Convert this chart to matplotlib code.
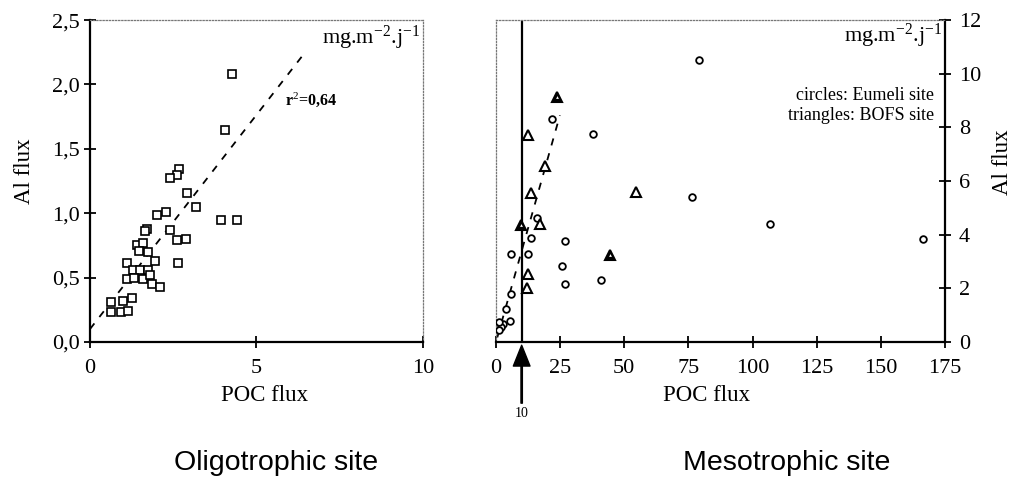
import numpy as np
import matplotlib
matplotlib.use("Agg")
import matplotlib.pyplot as plt
import matplotlib.transforms as mtransforms

plt.rcParams["font.family"] = ["Liberation Serif", "DejaVu Serif"]
plt.rcParams["mathtext.fontset"] = "custom"
plt.rcParams["mathtext.rm"] = "Liberation Serif"
plt.rcParams["mathtext.it"] = "Liberation Serif:italic"
plt.rcParams["mathtext.bf"] = "Liberation Serif:bold"

# ── Data: oligotrophic site (squares) ─────────────────────────────────────────
oligo_poc = [4.26, 4.04, 3.92, 4.40, 3.18, 2.90, 2.66, 2.62, 2.40, 2.27, 2.02,
             2.40, 2.60, 2.89, 2.65, 1.70, 1.64, 1.40, 1.58, 1.48, 1.75, 1.95,
             1.10, 1.28, 1.50, 1.75, 1.10, 1.33, 1.60, 1.85, 2.10, 1.80, 1.25,
             0.98, 0.63, 0.63, 0.92, 1.13]
oligo_al = [2.08, 1.65, 0.95, 0.95, 1.05, 1.16, 1.34, 1.30, 1.27, 1.01, 0.99,
            0.87, 0.79, 0.80, 0.61, 0.88, 0.86, 0.75, 0.77, 0.71, 0.70, 0.63,
            0.61, 0.56, 0.56, 0.56, 0.49, 0.50, 0.49, 0.45, 0.43, 0.52, 0.34,
            0.32, 0.31, 0.23, 0.23, 0.24]
oligo_fit_x = [0.0, 6.4]
oligo_fit_y = [0.10, 2.23]

# ── Data: mesotrophic site ────────────────────────────────────────────────────
eumeli_poc = [79.2, 37.8, 22.0, 76.5, 106.8, 166.3, 26.8, 25.7, 26.8, 41.0,
              13.8, 16.0, 12.3, 6.0, 6.0, 3.8, 5.4, 2.6, 1.9, 1.0, 1.2]
eumeli_al = [10.5, 7.76, 8.3, 5.4, 4.4, 3.83, 3.77, 2.82, 2.18, 2.31,
             3.88, 4.63, 3.29, 3.29, 1.78, 1.22, 0.78, 0.68, 0.55, 0.45, 0.75]
bofs_poc = [12.5, 19.2, 13.6, 54.7, 17.2, 12.5, 12.1]
bofs_al = [7.70, 6.58, 5.56, 5.58, 4.40, 2.53, 2.00]
bofs_dup_poc = [23.8, 9.9, 44.3]     # overlapping points (drawn heavy)
bofs_dup_al = [9.13, 4.37, 3.25]
meso_fit_x = [0.5, 24.9]
meso_fit_y = [0.17, 8.45]
poc_threshold = 10

fig = plt.figure(figsize=(10.28, 4.79), dpi=100)
ax1 = fig.add_axes([0.0875, 0.286, 0.324, 0.672])
ax2 = fig.add_axes([0.4825, 0.286, 0.4368, 0.672])


def frame(ax, solid, dotted):
    for s in solid:
        ax.spines[s].set_linewidth(1.6)
        ax.spines[s].set_color("black")
    for s in dotted:
        ax.spines[s].set_linestyle((0, (1, 1.5)))
        ax.spines[s].set_linewidth(0.9)
        ax.spines[s].set_color("#777777")


# ── Left panel ────────────────────────────────────────────────────────────────
ax1.plot(oligo_poc, oligo_al, "s", mfc="white", mec="black", ms=5.6, mew=1.2,
         zorder=3)
ax1.plot(oligo_fit_x, oligo_fit_y, color="black", lw=1.3,
         linestyle=(0, (4, 4.5)), zorder=2)
ax1.set_xlim(0, 10)
ax1.set_ylim(0, 2.5)
ax1.set_xticks([0, 5, 10])
ax1.set_xticklabels(["0", "5", "10"])
ax1.set_yticks([0, 0.5, 1.0, 1.5, 2.0, 2.5])
ax1.set_yticklabels(["0,0", "0,5", "1,0", "1,5", "2,0", "2,5"])
ax1.tick_params(axis="x", direction="inout", length=8, width=1.3, pad=8,
                labelsize=16)
ax1.tick_params(axis="y", direction="inout", length=8, width=1.3, pad=3,
                labelsize=16)
frame(ax1, ["left", "bottom"], ["top", "right"])
ax1.set_xlabel("POC flux", fontsize=16.5)
ax1.xaxis.set_label_coords(0.525, -0.135)
ax1.set_ylabel("Al flux", fontsize=16.5)
ax1.yaxis.set_label_coords(-0.165, 0.53)
ax1.text(0.99, 0.945, r"mg.m$^{-2}$.j$^{-1}$", transform=ax1.transAxes,
         ha="right", va="center", fontsize=16)
ax1.text(5.85, 1.88, r"r$^{2}$=0,64", ha="left", va="center", fontsize=11.5,
         fontweight="bold")

# ── Right panel ───────────────────────────────────────────────────────────────
ax2.axvline(poc_threshold, color="black", lw=1.6, zorder=1)
ax2.plot(meso_fit_x, meso_fit_y, color="black", lw=1.3,
         linestyle=(0, (4, 4.5)), zorder=2)
ax2.plot(eumeli_poc, eumeli_al, "o", mfc="white", mec="black", ms=4.8,
         mew=1.3, zorder=3)
ax2.plot(bofs_poc, bofs_al, "^", mfc="white", mec="black", ms=6.5, mew=1.5,
         zorder=3)
ax2.plot(bofs_dup_poc, bofs_dup_al, "^", mfc="black", mec="black", ms=7.5,
         mew=1.5, zorder=3)
ax2.plot(bofs_dup_poc, bofs_dup_al, "^", mfc="white", mec="white", ms=2.0,
         mew=0, zorder=4)
ax2.set_xlim(0, 175)
ax2.set_ylim(0, 12)
ax2.set_xticks(np.arange(0, 176, 25))
ax2.set_yticks(np.arange(0, 13, 2))
ax2.yaxis.tick_right()
ax2.yaxis.set_label_position("right")
ax2.tick_params(axis="x", direction="inout", length=8, width=1.3, pad=8,
                labelsize=16)
ax2.tick_params(axis="y", direction="inout", length=8, width=1.3, pad=6,
                labelsize=16)
frame(ax2, ["right", "bottom"], ["top", "left"])
ax2.set_xlabel("POC flux", fontsize=16.5)
ax2.xaxis.set_label_coords(0.47, -0.135)
ax2.set_ylabel("Al flux", fontsize=16.5, rotation=90)
ax2.yaxis.set_label_coords(1.105, 0.56)
ax2.text(0.993, 0.95, r"mg.m$^{-2}$.j$^{-1}$", transform=ax2.transAxes,
         ha="right", va="center", fontsize=16)
ax2.text(0.975, 0.765, "circles: Eumeli site", transform=ax2.transAxes,
         ha="right", va="center", fontsize=13)
ax2.text(0.975, 0.705, "triangles: BOFS site", transform=ax2.transAxes,
         ha="right", va="center", fontsize=13)

# Arrow marking POC = 10 below the axis
trans = mtransforms.blended_transform_factory(ax2.transData, ax2.transAxes)
ax2.annotate("", xy=(poc_threshold, -0.01), xycoords=trans,
             xytext=(poc_threshold, -0.19), textcoords=trans,
             arrowprops=dict(facecolor="black", edgecolor="black", width=1.0,
                             headwidth=12, headlength=15, shrink=0),
             annotation_clip=False)
ax2.text(poc_threshold, -0.222, str(poc_threshold), transform=trans,
         ha="center", va="center", fontsize=10)

# ── Site titles ───────────────────────────────────────────────────────────────
fig.text(0.269, 0.033, "Oligotrophic site", ha="center", va="center",
         fontsize=20.5, family="Liberation Sans")
fig.text(0.765, 0.033, "Mesotrophic site", ha="center", va="center",
         fontsize=20.5, family="Liberation Sans")

fig.savefig("out.png", dpi=100)
